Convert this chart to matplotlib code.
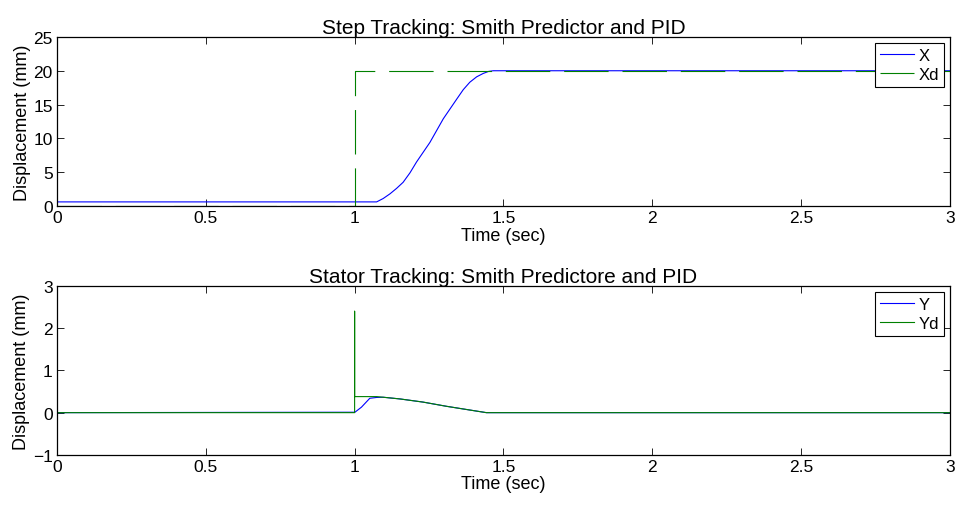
import numpy as np
import matplotlib
matplotlib.use("Agg")
import matplotlib.pyplot as plt

plt.rcParams['font.family'] = ['Liberation Sans', 'DejaVu Sans']

# step tracking (top panel)
t_x = [0.0, 1.074, 1.096, 1.119, 1.141, 1.163, 1.186, 1.208, 1.253, 1.298,
       1.343, 1.365, 1.387, 1.41, 1.432, 1.45, 1.466, 3.0]
x_pos = [0.6, 0.6, 1.1, 1.8, 2.6, 3.5, 4.9, 6.5, 9.4, 12.9,
         15.8, 17.2, 18.3, 19.1, 19.6, 19.9, 20.0, 20.0]
t_xd = [0.0, 1.0, 1.0, 3.0]
xd_pos = [0.0, 0.0, 20.0, 20.0]

# stator tracking (bottom panel)
t_y = [0.0, 1.001, 1.023, 1.051, 1.074, 1.096, 1.152, 1.23, 1.309, 1.398, 1.443, 3.0]
y_pos = [0.0, 0.01, 0.13, 0.34, 0.36, 0.365, 0.325, 0.25, 0.15, 0.05, 0.0, 0.0]
t_yd = [0.0, 1.0, 1.0, 1.0, 1.074, 1.096, 1.152, 1.23, 1.309, 1.398, 1.443, 3.0]
yd_pos = [0.0, 0.0, 2.4, 0.38, 0.38, 0.365, 0.325, 0.25, 0.15, 0.05, 0.0, 0.0]

x_ticks = [0, 0.5, 1, 1.5, 2, 2.5, 3]
x_tick_labels = ['0', '0.5', '1', '1.5', '2', '2.5', '3']

fig = plt.figure(figsize=(9.56, 5.06), dpi=100)
ax1 = fig.add_axes([0.0596, 0.591, 0.934, 0.334])
ax2 = fig.add_axes([0.0596, 0.099, 0.934, 0.334])

blue = (0, 0, 1)
green = (0, 0.5, 0)

ax1.plot(t_x, x_pos, color=blue, lw=0.8, label='X')
ax1.plot(t_xd, xd_pos, color=green, lw=0.8, linestyle=(0, (40, 12.5)), label='Xd')
ax1.set_ylim(0, 25)
ax1.set_yticks([0, 5, 10, 15, 20, 25])
ax1.set_title('Step Tracking: Smith Predictor and PID', fontsize=15, pad=3)

ax2.plot(t_y, y_pos, color=blue, lw=0.8, label='Y')
ax2.plot(t_yd, yd_pos, color=green, lw=0.8, label='Yd')
ax2.set_ylim(-1, 3)
ax2.set_yticks([-1, 0, 1, 2, 3])
ax2.set_title('Stator Tracking: Smith Predictore and PID', fontsize=15, pad=3)

for ax in (ax1, ax2):
    ax.set_xlim(0, 3)
    ax.set_xticks(x_ticks)
    ax.set_xticklabels(x_tick_labels)
    ax.set_xlabel('Time (sec)', fontsize=13, labelpad=1)
    ax.set_ylabel('Displacement (mm)', fontsize=13, labelpad=2)
    ax.tick_params(direction='in', top=True, right=True, labelsize=12.5,
                   length=5, width=0.6, pad=3)
    for sp in ax.spines.values():
        sp.set_linewidth(0.9)
    leg = ax.legend(loc='upper right', fontsize=12, fancybox=False, framealpha=1,
                    edgecolor='black', borderpad=0.3, handlelength=2.0,
                    handletextpad=0.3, labelspacing=0.25, borderaxespad=0.35)
    leg.get_frame().set_linewidth(0.8)

fig.savefig('out.png', dpi=100)
